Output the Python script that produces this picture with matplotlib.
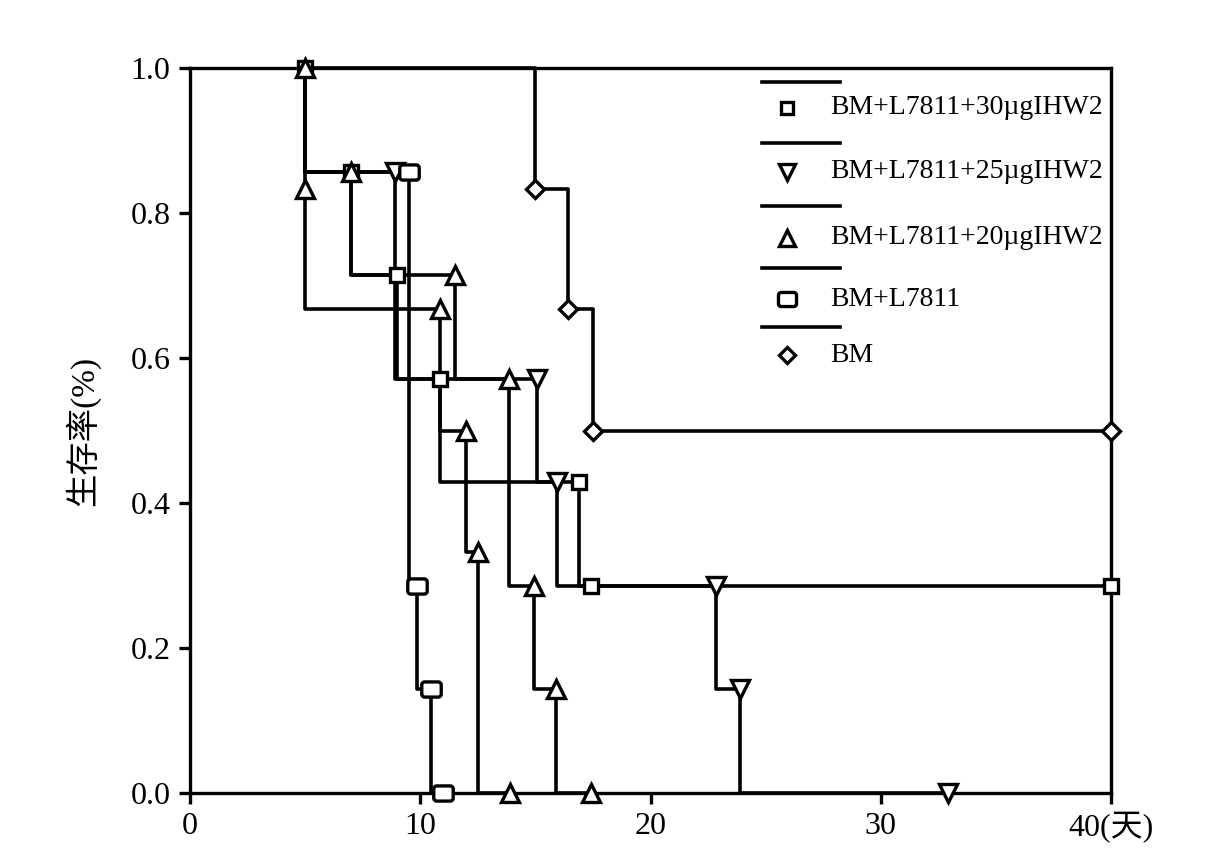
import numpy as np
import matplotlib.pyplot as plt
from matplotlib.path import Path

plt.rcParams['font.family'] = ['Liberation Serif', 'Noto Sans CJK SC']

# 数据 (天, 生存率)
x_30ug = [5, 7, 9, 10.85, 16.9, 17.4, 40]
y_30ug = [1.0, 0.857, 0.714, 0.571, 0.429, 0.286, 0.286]

x_25ug = [5, 8.9, 15.05, 15.93, 22.85, 23.9, 32.9]
y_25ug = [1.0, 0.857, 0.571, 0.429, 0.286, 0.143, 0.0]

x_20ug = [5, 7, 11.5, 13.85, 14.95, 15.9, 17.4]
y_20ug = [1.0, 0.857, 0.714, 0.571, 0.286, 0.143, 0.0]

x_tri6 = [5, 5, 10.85, 12.0, 12.5, 13.9]
y_tri6 = [1.0, 0.833, 0.667, 0.5, 0.333, 0.0]

x_l7811 = [5, 9.5, 9.85, 10.45, 11.0]
y_l7811 = [1.0, 0.857, 0.286, 0.143, 0.0]

x_bm = [5, 15, 16.4, 17.5, 40]
y_bm = [1.0, 0.833, 0.667, 0.5, 0.5]

labels = ["BM+L7811+30\u00b5gIHW2", "BM+L7811+25\u00b5gIHW2", "BM+L7811+20\u00b5gIHW2",
          "BM+L7811", "BM"]
xticks = [0, 10, 20, 30, 40]
xticklabels = ["0", "10", "20", "30", "40(天)"]
yticks = [0.0, 0.2, 0.4, 0.6, 0.8, 1.0]


def rounded_box(w=1.0, h=0.78, r=0.3):
    verts = [(-w + r, -h), (w - r, -h), (w, -h), (w, -h + r), (w, h - r), (w, h), (w - r, h),
             (-w + r, h), (-w, h), (-w, h - r), (-w, -h + r), (-w, -h), (-w + r, -h), (0, 0)]
    codes = [Path.MOVETO, Path.LINETO, Path.CURVE3, Path.CURVE3, Path.LINETO, Path.CURVE3,
             Path.CURVE3, Path.LINETO, Path.CURVE3, Path.CURVE3, Path.LINETO, Path.CURVE3,
             Path.CURVE3, Path.CLOSEPOLY]
    return Path(verts, codes)


rbox = rounded_box()

fig = plt.figure(figsize=(12.17, 8.57), dpi=100)
ax = fig.add_axes([190 / 1217, 64 / 857, 921 / 1217, 725 / 857])

lw = 2.6
mew = 2.4
series = [
    (x_30ug, y_30ug, 's', 10.5, 'steps-pre', 0),
    (x_25ug, y_25ug, 'v', 13, 'steps-pre', 1),
    (x_20ug, y_20ug, '^', 13, 'steps-pre', 0),
    (x_tri6, y_tri6, '^', 13, 'steps-pre', 1),
    (x_l7811, y_l7811, rbox, 14, 'steps-pre', 1),
    (x_bm, y_bm, 'D', 9.5, 'steps-post', 1),
]

for xs, ys, mk, ms, ds, start in series:
    ax.plot(xs, ys, color='black', lw=lw, drawstyle=ds, zorder=2, clip_on=False)
for xs, ys, mk, ms, ds, start in series:
    ax.plot(xs[start:], ys[start:], ls='none', marker=mk, ms=ms, mfc='white', mec='black',
            mew=mew, zorder=4, clip_on=False)

# 图例 (线在上, 标记在下)
def px_x(px):
    return (px - 190) / 921


def px_y(py):
    return (793 - py) / 725


leg_lines = [82, 143, 206, 268, 327]
leg_rows = [108, 172, 238, 299, 355]
leg_markers = [('s', 8.5), ('v', 11), ('^', 11), (rbox, 13), ('D', 8)]
for i in range(5):
    ax.plot([px_x(762), px_x(840)], [px_y(leg_lines[i])] * 2, color='black', lw=lw,
            transform=ax.transAxes, zorder=5)
    ax.plot([px_x(787)], [px_y(leg_rows[i])], ls='none', marker=leg_markers[i][0],
            ms=leg_markers[i][1], mfc='white', mec='black', mew=mew,
            transform=ax.transAxes, zorder=5)
    ax.text(px_x(830), px_y(leg_rows[i]), labels[i], fontsize=20, va='center', ha='left',
            transform=ax.transAxes)

ax.set_xlim(0, 40)
ax.set_ylim(0, 1.0)
ax.set_xticks(xticks)
ax.set_xticklabels(xticklabels)
ax.set_yticks(yticks)
ax.set_yticklabels([f"{v:.1f}" for v in yticks])
ax.tick_params(direction='out', length=8, width=2.4, labelsize=23, pad=6)
for s in ax.spines.values():
    s.set_linewidth(2.4)

ax.set_ylabel("生存率(%)", fontsize=24)
ax.yaxis.set_label_coords(px_x(100), 0.5)

fig.savefig('out.png', dpi=100)
